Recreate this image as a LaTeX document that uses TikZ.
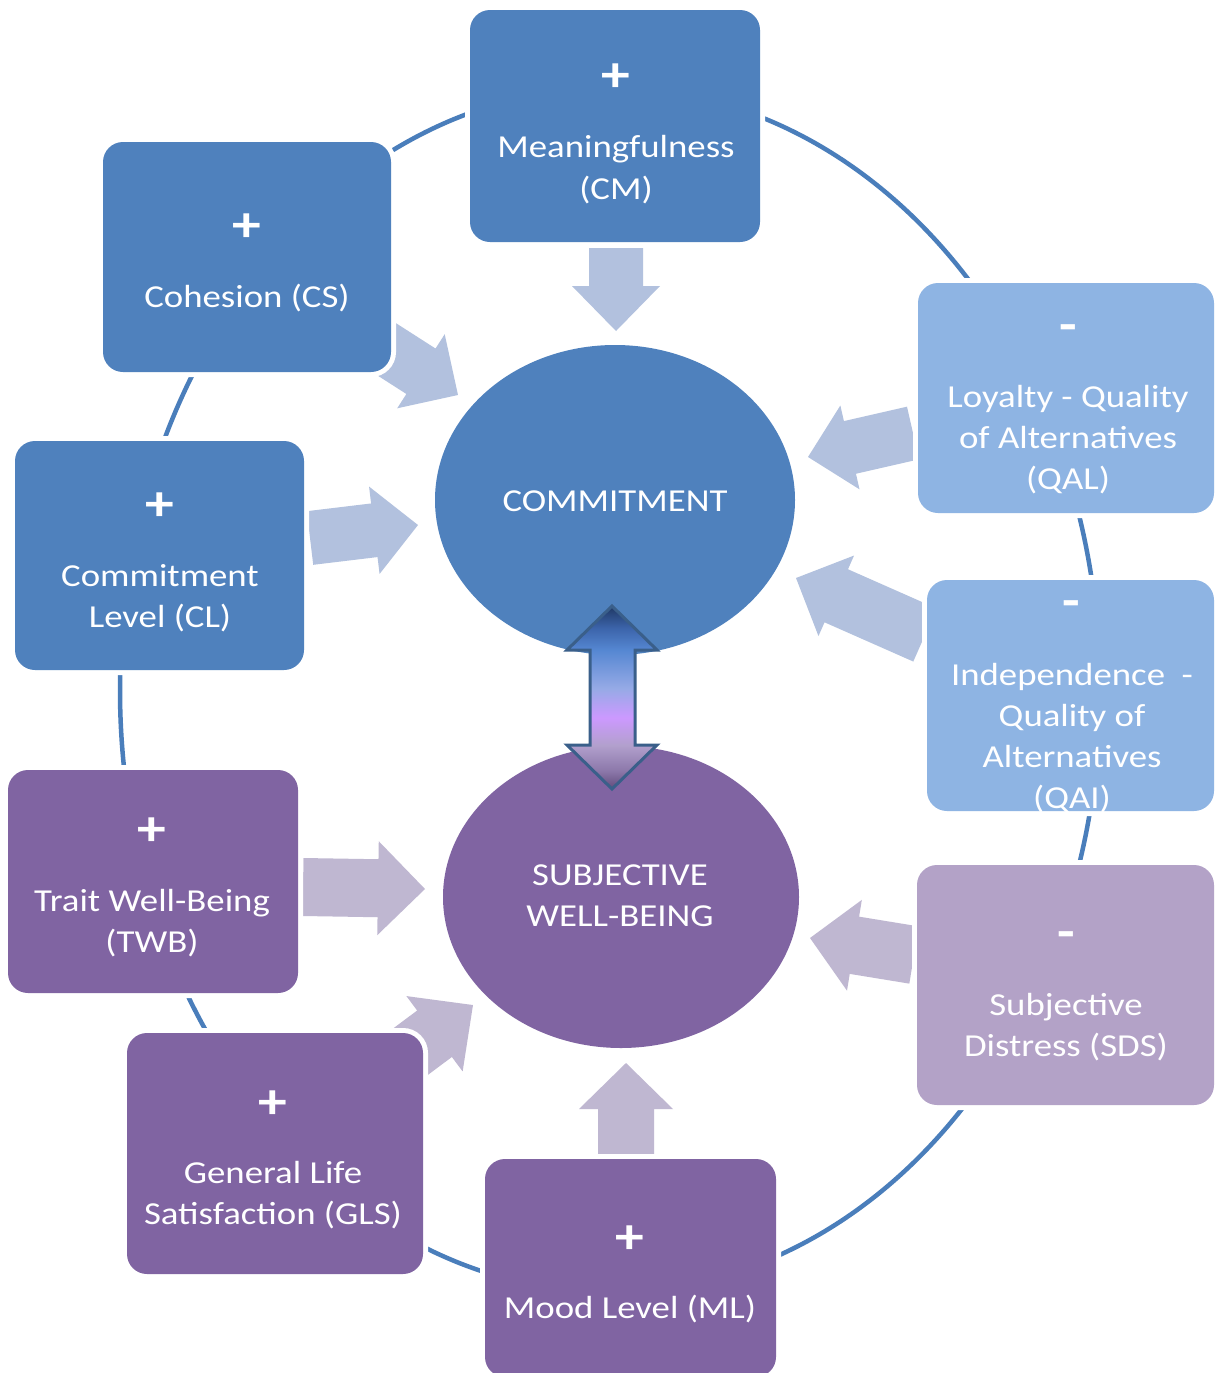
\documentclass[tikz,border=0pt]{standalone}
\usepackage{fontspec}
\setmainfont{Carlito}[FakeStretch=1.15]
\usetikzlibrary{shapes.geometric}
\definecolor{cmblue}{HTML}{4F81BD}
\definecolor{ltblue}{HTML}{8EB4E3}
\definecolor{purp}{HTML}{8064A2}
\definecolor{lav}{HTML}{B3A2C7}
\definecolor{ringc}{HTML}{4A7EBB}
\definecolor{arrblue}{HTML}{B2C1DE}
\definecolor{arrpurp}{HTML}{BFB7D1}
\definecolor{dblline}{HTML}{3A5F8A}
\definecolor{dA}{RGB}{96,74,123}
\definecolor{dB}{RGB}{140,120,170}
\definecolor{dC}{RGB}{178,160,205}
\definecolor{dD}{RGB}{204,153,255}
\definecolor{dE}{RGB}{150,170,230}
\definecolor{dF}{RGB}{85,135,210}
\definecolor{dG}{RGB}{60,100,170}
\definecolor{dH}{RGB}{31,56,100}
\pgfdeclareverticalshading{dblshade}{100bp}{color(0bp)=(dA); color(25bp)=(dA); color(30bp)=(dB); color(37bp)=(dC); color(44.5bp)=(dD); color(52.5bp)=(dE); color(63bp)=(dF); color(69bp)=(dG); color(75bp)=(dH); color(100bp)=(dH)}
\newcommand\lblfont{\fontsize{32}{41}\selectfont}
\newcommand\sgnfont{\fontsize{50}{60}\selectfont\bfseries}
\newcommand\barrow[8]{%
  \pgfmathsetmacro\bA{atan2(-(#4-#2),#3-#1)}%
  \pgfmathsetmacro\bL{veclen(#3-#1,#4-#2)}%
  \pgfmathsetmacro\bB{\bL-#7}%
  \fill[#8, shift={(#1,#2)}, rotate=\bA] (0,#5) -- (\bB,#5) -- (\bB,#6) -- (\bL,0) -- (\bB,-#6) -- (\bB,-#5) -- (0,-#5) -- cycle;}
\tikzset{
  box/.style={rectangle, rounded corners=20pt, fill=#1, draw=none, inner sep=0pt,
    preaction={draw=white, line width=10pt}},
  oval/.style={ellipse, fill=#1, draw=none, inner sep=0pt},
  lbl/.style={text=white, font=\lblfont, inner sep=0pt, anchor=base},
  sgn/.style={text=white, font=\sgnfont, inner sep=0pt, anchor=center},
  ring/.style={draw=ringc, line width=4.5pt}
}
\begin{document}
\begin{tikzpicture}[x=1pt, y=-1pt]
\fill[white] (0,0) rectangle (1215,1373);
\useasboundingbox (0,0) rectangle (1215,1373);
% ring
\draw[ring] (610,690) ellipse [x radius=490pt, y radius=602pt];
% block arrows
\barrow{616}{248}{616}{331}{27}{44}{45}{arrblue}
\barrow{380}{345}{458}{395}{27}{44}{44}{arrblue}
\barrow{310}{538}{418}{525}{27}{44}{44}{arrblue}
\barrow{913}{433}{808}{457}{27}{43}{43}{arrblue}
\barrow{925}{635}{796}{578}{29}{44}{44}{arrblue}
\barrow{303}{887}{425}{889}{29}{47}{47}{arrpurp}
\barrow{394}{1064}{473}{1005}{29}{47}{48}{arrpurp}
\barrow{626}{1155}{626}{1063}{28}{47}{46}{arrpurp}
\barrow{914}{955}{810}{938}{29}{46}{45}{arrpurp}
% boxes
\node[box=cmblue, minimum width=290pt, minimum height=232pt] (CM) at (615,126) {};
\node[box=cmblue, minimum width=288pt, minimum height=230pt] (CS) at (247,257) {};
\node[box=cmblue, minimum width=289pt, minimum height=229pt] (CL) at (159.5,555.5) {};
\node[box=ltblue, minimum width=296pt, minimum height=230pt] (QAL) at (1066,398) {};
\node[box=ltblue, minimum width=287pt, minimum height=231pt] (QAI) at (1070.5,695.5) {};
\node[box=purp, minimum width=290pt, minimum height=223pt] (TWB) at (153,881.5) {};
\node[box=purp, minimum width=296pt, minimum height=241pt] (GLS) at (275,1153.5) {};
\node[box=purp, minimum width=291pt, minimum height=218pt] (ML) at (630.5,1268) {};
\node[box=lav, minimum width=297pt, minimum height=240pt] (SDS) at (1065.5,985) {};
% central ellipses
\node[oval=cmblue, minimum width=360pt, minimum height=310pt] (COM) at (615,500) {};
\node[oval=purp, minimum width=356pt, minimum height=302pt] (SWB) at (621,897) {};
% double arrow
\shade[shading=dblshade, draw=dblline, line width=3pt, line join=miter]
  (612,606) -- (657,650) -- (635,650) -- (635,745) -- (657,745) -- (612,789)
  -- (567,745) -- (590,745) -- (590,650) -- (567,650) -- cycle;
% texts
\node[sgn] (CMs) at (616,78) {+};
\node[lbl] (CMa) at (616,157) {Meaningfulness};
\node[lbl] (CMb) at (616,199) {(CM)};
\node[sgn] (CSs) at (247,228) {+};
\node[lbl] (CSa) at (247,307) {Cohesion (CS)};
\node[sgn] (CLs) at (160,507) {+};
\node[lbl] (CLa) at (160,586) {Commitment};
\node[lbl] (CLb) at (160,627) {Level (CL)};
\node[sgn] (QALs) at (1068,333) {-};
\node[lbl] (QALa) at (1068,407) {Loyalty - Quality};
\node[lbl] (QALb) at (1068,448) {of Alternatives};
\node[lbl] (QALc) at (1068,489) {(QAL)};
\node[sgn] (QAIs) at (1071,609) {-};
\node[lbl] (QAIa) at (1072,685) {Independence~ -};
\node[lbl] (QAIb) at (1072,726) {Quality of};
\node[lbl] (QAIc) at (1072,767) {Alternatives};
\node[lbl] (QAId) at (1072,808) {(QAI)};
\node[sgn] (TWBs) at (152,832) {+};
\node[lbl] (TWBa) at (152,911) {Trait Well-Being};
\node[lbl] (TWBb) at (152,952) {(TWB)};
\node[sgn] (GLSs) at (273,1105) {+};
\node[lbl] (GLSa) at (273,1183) {General Life};
\node[lbl] (GLSb) at (273,1224) {Satisfaction (GLS)};
\node[sgn] (MLs) at (630,1240) {+};
\node[lbl] (MLa) at (630,1318) {Mood Level (ML)};
\node[sgn] (SDSs) at (1066,940) {-};
\node[lbl] (SDSa) at (1066,1015) {Subjective};
\node[lbl] (SDSb) at (1066,1056) {Distress (SDS)};
\node[lbl] (COMt) at (615,511) {COMMITMENT};
\node[lbl] (SWBa) at (620,885) {SUBJECTIVE};
\node[lbl] (SWBb) at (620,926) {WELL-BEING};
\end{tikzpicture}
\end{document}
